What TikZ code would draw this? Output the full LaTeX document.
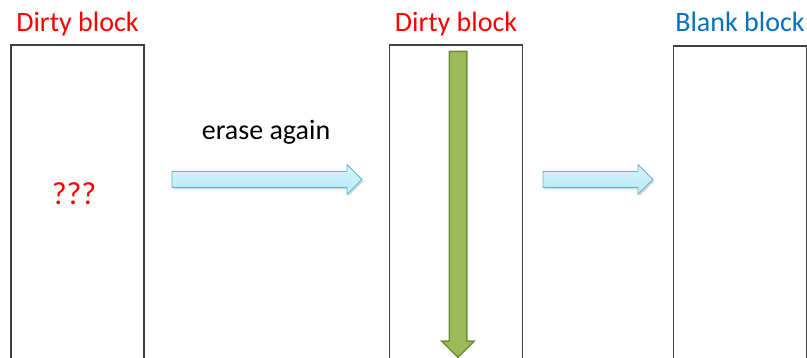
\documentclass[tikz,border=0pt]{standalone}
\usepackage{fontspec}
\setmainfont{Carlito}
\usetikzlibrary{shapes.arrows,shadows,positioning}
\definecolor{dirtyred}{RGB}{255,0,0}
\definecolor{blankblue}{RGB}{0,112,192}
\definecolor{flowfill}{RGB}{186,234,250}
\definecolor{flowedge}{RGB}{96,182,206}
\definecolor{erasefill}{RGB}{155,187,89}
\definecolor{eraseedge}{RGB}{113,140,56}

\begin{document}
\begin{tikzpicture}[x=1pt,y=-1pt,
  font=\fontsize{28}{32}\selectfont,
  blk/.style={draw=black!75,line width=1.6pt,minimum width=133pt,minimum height=400pt,anchor=north},
  lbl/.style={anchor=base,inner sep=0pt},
  flow/.style={single arrow,single arrow head extend=7pt,inner xsep=0pt,inner ysep=7.5pt,
    minimum width=29pt,top color=flowfill!60!white,bottom color=flowfill,draw=flowedge,line width=0.8pt,
    drop shadow={opacity=0.3,shadow xshift=1.5pt,shadow yshift=-2pt}},
  erasearrow/.style={single arrow,single arrow head extend=7.5pt,inner xsep=0pt,inner ysep=8pt,
    minimum width=31pt,fill=erasefill,draw=eraseedge,line width=1.5pt,rotate=-90}
]
\useasboundingbox (0,0) rectangle (807,358);
\clip (0,0) rectangle (807,358);
\node[blk] (dirty) at (77.5,44) {};
\node[blk] (again) at (456,44) {};
\node[blk] (blank) at (740,45) {};
\node[lbl,text=dirtyred] (dirtylbl) at ([yshift=12pt]dirty.north) {Dirty block};
\node[lbl,text=dirtyred] (againlbl) at ([yshift=12pt]again.north) {Dirty block};
\node[lbl,text=blankblue] (blanklbl) at ([yshift=13pt]blank.north) {Blank block};
\node[lbl,text=dirtyred,font=\fontsize{32}{34}\selectfont] (qq) at (74,205) {???};
\node[flow,minimum height=190pt] (step1) at (263,179.5) {};
\node[lbl] (steplbl) at (266,140) {erase again};
\node[flow,minimum height=110pt] (step2) at (594,179.5) {};
\node[erasearrow,minimum height=306pt] (wipe) at (458,200) {};
\end{tikzpicture}
\end{document}
